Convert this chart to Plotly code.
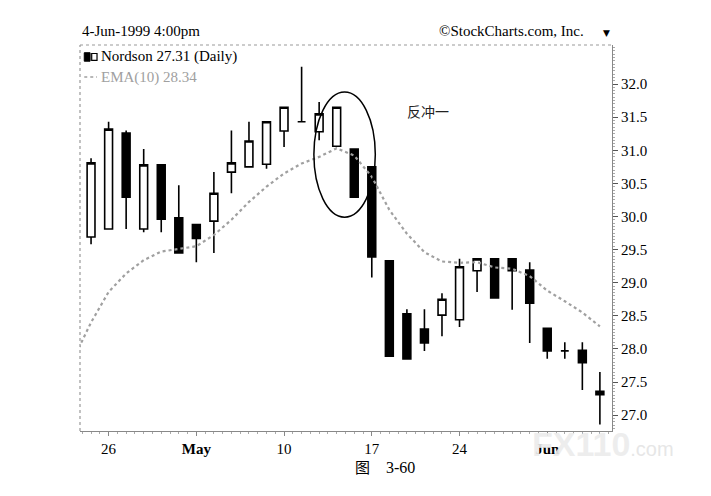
import plotly.graph_objects as go

# Nordson daily, 23-Apr-1999 .. 4-Jun-1999
opens = [29.69, 29.81, 31.26, 29.81, 30.78, 29.98, 29.88, 29.93, 30.67, 30.75,
         30.79, 31.29, 31.43, 31.28, 31.06, 31.02, 30.75, 29.33, 28.53, 28.30,
         28.51, 28.44, 29.18, 29.36, 29.36, 29.19, 28.31, 27.97, 27.98, 27.36]
highs = [30.88, 31.43, 31.30, 31.02, 30.78, 30.47, 29.88, 30.67, 31.30, 31.43,
         31.43, 31.65, 32.26, 31.73, 31.65, 31.02, 30.75, 29.33, 28.60, 28.60,
         28.84, 29.36, 29.36, 29.36, 29.36, 29.31, 28.31, 28.10, 28.10, 27.65]
lows = [29.58, 29.81, 29.81, 29.76, 29.76, 29.45, 29.31, 29.45, 30.35, 30.75,
        30.72, 31.05, 31.43, 31.15, 31.06, 30.29, 29.08, 27.89, 27.85, 27.97,
        28.19, 28.33, 28.86, 28.77, 28.59, 28.09, 27.85, 27.85, 27.38, 26.86]
closes = [30.81, 31.32, 30.29, 30.78, 29.96, 29.45, 29.67, 30.35, 30.81, 31.14,
          31.43, 31.65, 31.43, 31.55, 31.65, 30.29, 29.39, 27.89, 27.85, 28.09,
          28.75, 29.24, 29.36, 28.77, 29.18, 28.69, 27.97, 27.97, 27.79, 27.31]

# EMA(10), first value is the day before the first candle
ema10 = [27.85, 28.40, 28.86, 29.14, 29.34, 29.47, 29.51, 29.55, 29.72, 29.95,
         30.22, 30.45, 30.65, 30.80, 30.90, 31.03, 30.92, 30.60, 30.10, 29.74,
         29.46, 29.32, 29.30, 29.31, 29.23, 29.21, 29.10, 28.88, 28.72, 28.55,
         28.34]

tick_pos = [1, 6, 11, 16, 21, 26]
tick_labels = ["26", "<b>May</b>", "10", "17", "24", "<b>Jun</b>"]
price_ticks = [27.0, 27.5, 28.0, 28.5, 29.0, 29.5, 30.0, 30.5, 31.0, 31.5, 32.0]

serif = "Liberation Serif"
idx = list(range(len(closes)))

fig = go.Figure()

fig.add_trace(go.Scatter(
    x=list(range(-1, len(closes))), y=ema10, mode="lines",
    line=dict(color="#a0a0a0", width=2.2, dash="dot"),
    hoverinfo="skip", showlegend=False))

fig.add_trace(go.Candlestick(
    x=idx, open=opens, high=highs, low=lows, close=closes,
    increasing=dict(line=dict(color="black", width=1.6), fillcolor="white"),
    decreasing=dict(line=dict(color="black", width=1.6), fillcolor="black"),
    whiskerwidth=0, showlegend=False))

# ellipse round the two candles
fig.add_shape(type="circle", xref="x", yref="y", x0=12.7, x1=16.2, y0=29.99, y1=31.88,
              line=dict(color="black", width=1.5))

# dotted frame on top and left
fig.add_shape(type="line", xref="paper", yref="paper", x0=0, x1=1, y0=1, y1=1,
              line=dict(color="#999999", width=1.2, dash="dot"))
fig.add_shape(type="line", xref="paper", yref="paper", x0=0, x1=0, y0=0, y1=1,
              line=dict(color="#999999", width=1.2, dash="dot"))

# legend icon
fig.add_shape(type="rect", xref="paper", yref="paper", x0=0.008, x1=0.019, y0=0.958, y1=0.980,
              line=dict(color="black", width=1), fillcolor="black")
fig.add_shape(type="rect", xref="paper", yref="paper", x0=0.022, x1=0.032, y0=0.960, y1=0.978,
              line=dict(color="black", width=1.2), fillcolor="white")
fig.add_shape(type="line", xref="paper", yref="paper", x0=0.008, x1=0.032, y0=0.917, y1=0.917,
              line=dict(color="#a0a0a0", width=1.5, dash="dot"))

fig.add_annotation(x=0.036, y=0.971, xref="paper", yref="paper", xanchor="left", yanchor="middle",
                   text="Nordson 27.31 (Daily)", showarrow=False,
                   font=dict(family=serif, size=15, color="black"))
fig.add_annotation(x=0.036, y=0.917, xref="paper", yref="paper", xanchor="left", yanchor="middle",
                   text="EMA(10) 28.34", showarrow=False,
                   font=dict(family=serif, size=15, color="#a0a0a0"))

fig.add_annotation(x=0.0, y=1.036, xref="paper", yref="paper", xanchor="left", yanchor="middle",
                   text="4-Jun-1999 4:00pm", showarrow=False,
                   font=dict(family=serif, size=15, color="black"))
fig.add_annotation(x=0.952, y=1.036, xref="paper", yref="paper", xanchor="right", yanchor="middle",
                   text="©StockCharts.com, Inc.", showarrow=False,
                   font=dict(family=serif, size=15, color="black"))
fig.add_annotation(x=0.99, y=1.03, xref="paper", yref="paper", xanchor="center", yanchor="middle",
                   text="▼", showarrow=False,
                   font=dict(family="DejaVu Sans", size=9, color="black"))

fig.add_annotation(x=19.2, y=31.6, xref="x", yref="y", text="反冲一", showarrow=False,
                   font=dict(family="Noto Sans CJK SC", size=14, color="#222222"))

fig.add_annotation(x=0.573, y=-0.091, xref="paper", yref="paper", yanchor="middle",
                   text="图<span style='font-family:Liberation Serif;font-size:16px'>    3-60</span>",
                   showarrow=False,
                   font=dict(family="Noto Sans CJK SC", size=15, color="black"))

# watermark
fig.add_annotation(x=0.846, y=-0.034, xref="paper", yref="paper", xanchor="left", yanchor="middle",
                   text="<b>FX110</b><span style='font-size:20px;color:#e4e4e4'>.com</span>",
                   showarrow=False,
                   font=dict(family="Liberation Sans", size=34, color="rgba(236,236,236,0.93)"))

# page is drawn 8px down/right of the window corner, so margins are shifted back
fig.update_layout(
    width=711, height=496,
    margin=dict(l=72, r=107, t=37, b=73),
    paper_bgcolor="white", plot_bgcolor="white",
    boxgap=0.36,
    xaxis=dict(
        range=[-0.63, 29.69], rangeslider=dict(visible=False),
        tickmode="array", tickvals=tick_pos, ticktext=tick_labels,
        showgrid=False, zeroline=False,
        showline=True, linecolor="#888888", linewidth=1.2,
        ticks="outside", ticklen=4, tickcolor="#888888",
        minor=dict(ticks="outside", ticklen=2, dtick=0.5, tickcolor="#aaaaaa", showgrid=False),
        tickfont=dict(family=serif, size=15, color="black"),
    ),
    yaxis=dict(
        side="right", range=[26.76, 32.59],
        tickmode="array", tickvals=price_ticks, tickformat=".1f",
        showgrid=False, zeroline=False,
        showline=True, linecolor="#888888", linewidth=1.2,
        ticks="outside", ticklen=5, tickcolor="#555555",
        minor=dict(ticks="outside", ticklen=2, dtick=0.05, tickcolor="#aaaaaa", showgrid=False),
        tickfont=dict(family=serif, size=15, color="black"),
    ),
)

fig.write_html("out.html")
